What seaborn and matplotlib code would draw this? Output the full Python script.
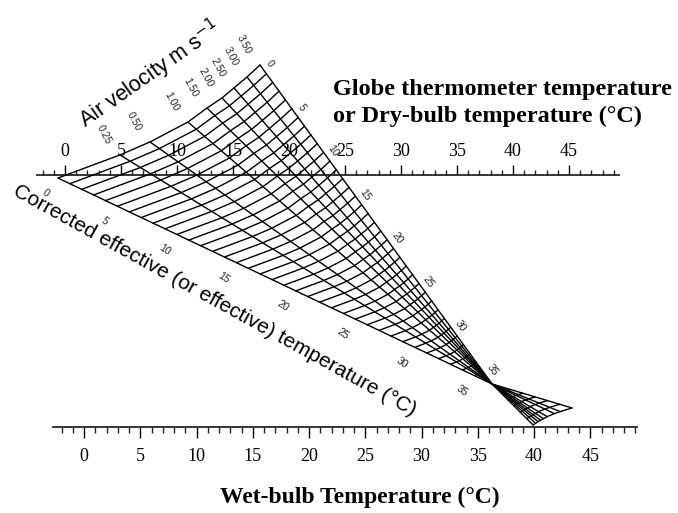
import numpy as np
import pandas as pd
import matplotlib
matplotlib.use("Agg")
import matplotlib.pyplot as plt
import seaborn as sns

# ---------------- data ----------------
# top scale: globe thermometer / dry-bulb temperature (deg C)
top_major = [0, 5, 10, 15, 20, 25, 30, 35, 40, 45]
top_minor = list(range(-2, 50))
top_span = [-2.5, 49.5]
# bottom scale: wet-bulb temperature (deg C)
bottom_major = [0, 5, 10, 15, 20, 25, 30, 35, 40, 45]
bottom_minor = list(range(-2, 50))
bottom_span = [-2.75, 49.15]
bottom_offset = 1.70      # wet-bulb 0 position on the dry-bulb scale
bottom_stretch = 1.0045   # wet-bulb degree length in dry-bulb degrees
bottom_level = -22.5      # vertical position of the wet-bulb scale

# air-velocity lines: start points on the ET = 0 curve (chart units)
velocity_labels = ["0.10", "0.25", "0.50", "1.00", "1.50", "2.00", "2.50", "3.00", "3.50"]
vel_start_x = [-0.63, 4.91, 7.59, 10.98, 12.68, 14.02, 15.09, 16.25, 17.41]
vel_start_y = [-0.27, 1.79, 2.95, 4.73, 5.98, 6.88, 7.77, 8.75, 9.82]
show_velocity_label = [False, True, True, True, True, True, True, True, True]

# point where all velocity lines cross, and the far ends beyond it
pinch_x, pinch_y, pinch_et = 38.13, -18.66, 36.5
end_first_x, end_first_y = 45.27, -20.80
end_last_x, end_last_y = 41.79, -22.32
et_end = 43

# corrected effective temperature lines
et_main = list(range(0, 37))
et_tail = list(range(37, 44))
et_labels = [0, 5, 10, 15, 20, 25, 30, 35]

# ---------------- geometry ----------------
P = np.column_stack([vel_start_x, vel_start_y])
C = np.array([pinch_x, pinch_y])
D = C - P
A = np.column_stack([D[0], D[-1]])
B = np.column_stack([[end_first_x - pinch_x, end_first_y - pinch_y],
                     [end_last_x - pinch_x, end_last_y - pinch_y]])
M = B @ np.linalg.inv(A)
E = C + (M @ D.T).T


def point(i, et):
    if et <= pinch_et:
        return P[i] + D[i] * et / pinch_et
    t = (et - pinch_et) / (et_end - pinch_et)
    return C + (E[i] - C) * t


rows = []
for i in range(len(P)):
    for et in [0, pinch_et, et_end]:
        x, y = point(i, et)
        rows.append(dict(x=x, y=y, line=f"v{i}"))
for et in et_main + et_tail:
    for i in range(len(P)):
        x, y = point(i, et)
        rows.append(dict(x=x, y=y, line=f"e{et}"))
grid = pd.DataFrame(rows)

# ---------------- figure ----------------
sns.set_theme(style="white")
plt.rcParams["font.family"] = ["Liberation Sans", "DejaVu Sans"]

W, H, unit = 678, 513, 11.2
fig = plt.figure(figsize=(W / 100, H / 100), dpi=100)
ax = fig.add_axes([0, 0, 1, 1])
x0, y0 = -65 / unit, (175 - H) / unit
ax.set_xlim(x0, x0 + W / unit)
ax.set_ylim(y0, y0 + H / unit)
for s in ax.spines.values():
    s.set_visible(False)
ax.set_xticks([])
ax.set_yticks([])

sns.lineplot(data=grid, x="x", y="y", units="line", estimator=None, sort=False,
             color="black", linewidth=1.0, ax=ax, legend=False)
ax.set_xlabel("")
ax.set_ylabel("")

serif = ["Liberation Serif", "DejaVu Serif"]
ylo, yhi = ax.get_ylim()

# top scale
top = ax.secondary_xaxis((0 - ylo) / (yhi - ylo))
top.set_xticks(top_major)
top.set_xticks(top_minor, minor=True)
top.set_xticklabels([str(v) for v in top_major], fontfamily=serif, fontsize=13)
top.tick_params(which="major", direction="out", length=7.5, width=1.0, pad=3.5, colors="black")
top.tick_params(which="minor", direction="out", length=3.8, width=1.0)
for s in top.spines.values():
    s.set_linewidth(1.3)
top.spines["top"].set_bounds(*top_span)

# bottom scale
bot = ax.secondary_xaxis((bottom_level - ylo) / (yhi - ylo),
                         functions=(lambda x: (x - bottom_offset) / bottom_stretch,
                                    lambda w: bottom_offset + bottom_stretch * w))
bot.set_xticks(bottom_major)
bot.set_xticks(bottom_minor, minor=True)
bot.set_xticklabels([str(v) for v in bottom_major], fontfamily=serif, fontsize=13)
bot.tick_params(which="major", direction="out", length=8, width=1.0, pad=7, colors="black")
bot.tick_params(which="minor", direction="out", length=4, width=1.0)
for s in bot.spines.values():
    s.set_linewidth(1.3)
bot.spines["bottom"].set_bounds(*bottom_span)

# velocity labels
for i, lab in enumerate(velocity_labels):
    if show_velocity_label[i]:
        ax.annotate(lab, xy=P[i], xytext=(-11.5, 15), textcoords="offset points",
                    rotation=-62, rotation_mode="anchor", ha="center", va="center",
                    fontsize=7.5, color="#222222")

# ET labels on both edges of the fan
for et in et_labels:
    ax.annotate(str(et), xy=point(0, et), xytext=(-9, -11), textcoords="offset points",
                rotation=-35, rotation_mode="anchor", ha="center", va="center",
                fontsize=7.5, color="#222222")
    ax.annotate(str(et), xy=point(len(P) - 1, et), xytext=(7, 1), textcoords="offset points",
                rotation=-54, rotation_mode="anchor", ha="center", va="center",
                fontsize=7.5, color="#222222")

# axis titles
ax.text(7.6, 8.95, "Air velocity m s$^{-1}$", rotation=35, rotation_mode="anchor",
        ha="center", va="center", fontsize=15.5, color="black")
ax.text(13.4, -11.2, "Corrected effective (or effective) temperature (\u00b0C)",
        rotation=-29, rotation_mode="anchor", ha="center", va="center",
        fontsize=15, color="black")
ax.text(23.93, 7.14, "Globe thermometer temperature", ha="left", va="baseline",
        fontfamily=serif, fontweight="bold", fontsize=17.5, color="black")
ax.text(23.93, 4.73, "or Dry-bulb temperature (\u00b0C)", ha="left", va="baseline",
        fontfamily=serif, fontweight="bold", fontsize=17.5, color="black")
ax.text(26.34, -29.29, "Wet-bulb Temperature (\u00b0C)", ha="center", va="baseline",
        fontfamily=serif, fontweight="bold", fontsize=17, color="black")

fig.savefig("out.png", dpi=100, facecolor="white")
